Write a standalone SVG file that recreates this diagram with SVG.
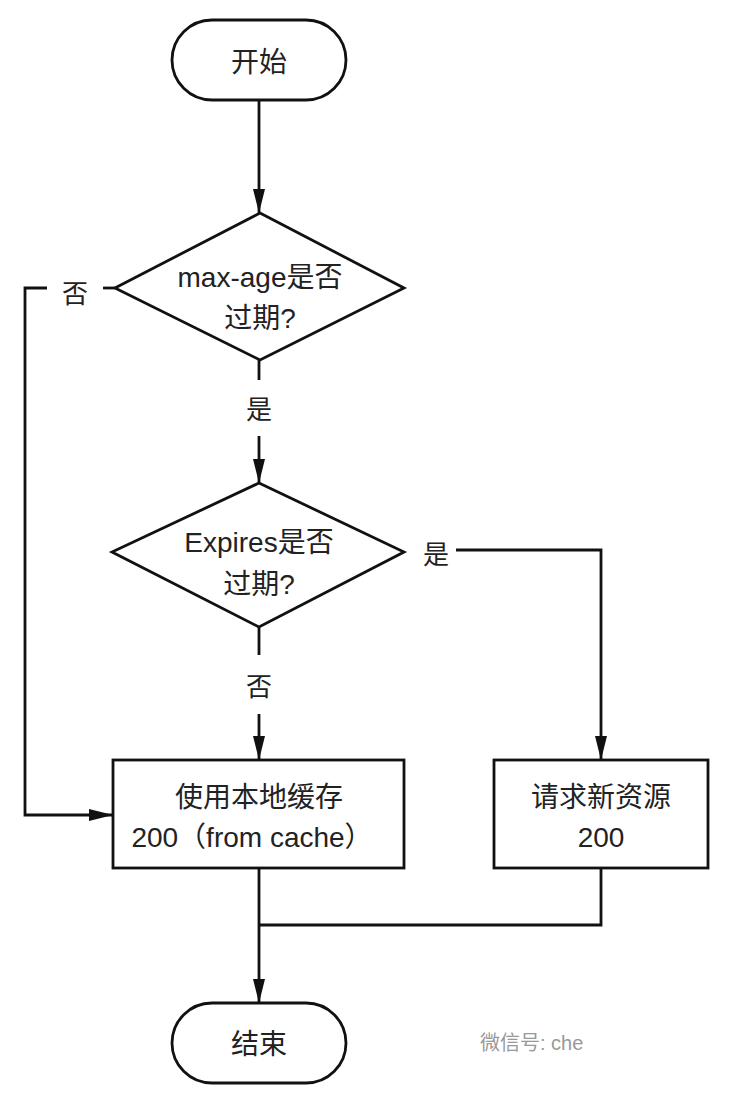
<svg xmlns="http://www.w3.org/2000/svg" width="729" height="1100" viewBox="0 0 729 1100">
<style>
.s{fill:#fff;stroke:#111;stroke-width:2.8}
.c{fill:none;stroke:#111;stroke-width:2.8}
text{font-family:"Liberation Sans","Noto Sans CJK SC",sans-serif;fill:#222;text-anchor:middle}
.t{font-size:28px}
.l{font-size:26px}
</style>
<defs>
<marker id="ah" viewBox="0 0 24 12" refX="24" refY="6" markerWidth="24" markerHeight="12" orient="auto" markerUnits="userSpaceOnUse">
<path d="M0,0 L24,6 L0,12 Z" fill="#111"/>
</marker>
</defs>
<rect width="729" height="1100" fill="#fff"/>
<g id="connectors">
<path class="c" d="M259,100 V213" marker-end="url(#ah)"/>
<path class="c" d="M259,360 V380"/>
<path class="c" d="M259,436 V483" marker-end="url(#ah)"/>
<path class="c" d="M115,288 H103"/>
<path class="c" d="M47,288 H25 V815 H113" marker-end="url(#ah)"/>
<path class="c" d="M259,627 V655"/>
<path class="c" d="M259,714 V760" marker-end="url(#ah)"/>
<path class="c" d="M456,550 H601 V760" marker-end="url(#ah)"/>
<path class="c" d="M259,868 V1003" marker-end="url(#ah)"/>
<path class="c" d="M601,868 V925 H259"/>
<text class="l" x="75" y="303">否</text>
<text class="l" x="259" y="419">是</text>
<text class="l" x="436" y="564">是</text>
<text class="l" x="259" y="696">否</text>
</g>
<g id="start">
<rect class="s" x="172" y="20" width="174" height="80" rx="40"/>
<text class="t" x="259" y="72">开始</text>
</g>
<g id="maxage">
<polygon class="s" points="260,213 404,288 260,360 115,288"/>
<text class="t" x="260" y="287">max-age是否</text>
<text class="t" x="260" y="328">过期?</text>
</g>
<g id="expires">
<polygon class="s" points="259,483 404,552 259,627 112,552"/>
<text class="t" x="259" y="552">Expires是否</text>
<text class="t" x="259" y="594">过期?</text>
</g>
<g id="cache">
<rect class="s" x="113" y="760" width="291" height="108"/>
<text class="t" x="259" y="807">使用本地缓存</text>
<text class="t" x="252" y="847">200（from cache）</text>
</g>
<g id="fetch">
<rect class="s" x="494" y="760" width="214" height="108"/>
<text class="t" x="601" y="807">请求新资源</text>
<text class="t" x="601" y="847">200</text>
</g>
<g id="end">
<rect class="s" x="172" y="1003" width="174" height="80" rx="40"/>
<text class="t" x="259" y="1054">结束</text>
</g>
<g id="watermark">
<text x="480" y="1050" style="font-size:20px;fill:#999;text-anchor:start">微信号: che</text>
</g>
</svg>
